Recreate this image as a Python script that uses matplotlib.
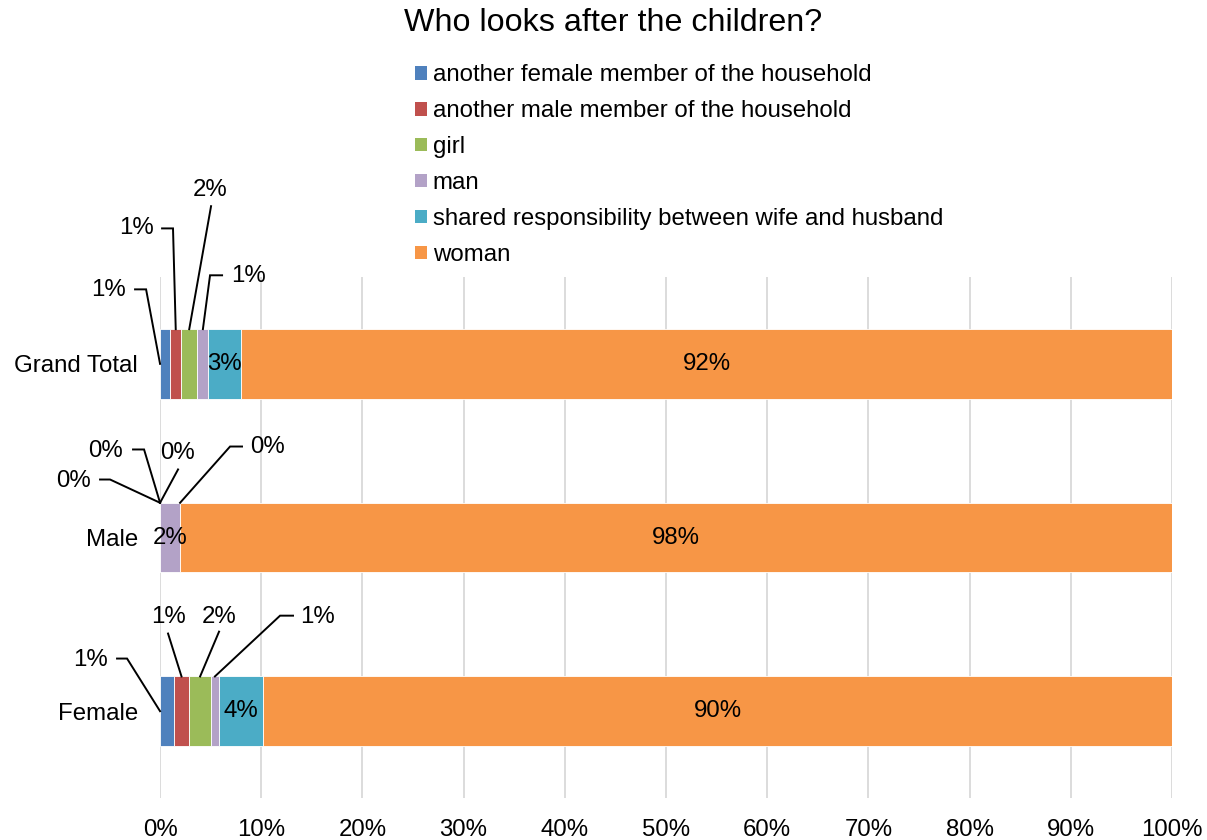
import matplotlib
matplotlib.use("Agg")
import matplotlib.pyplot as plt
from matplotlib.patches import Patch
import numpy as np

plt.rcParams["font.family"] = ["Liberation Sans", "DejaVu Sans"]

# Survey groups (bottom to top) and the carer categories
groups = ["Female", "Male", "Grand Total"]
series = [
    "another female member of the household",
    "another male member of the household",
    "girl",
    "man",
    "shared responsibility between wife and husband",
    "woman",
]
colors = ["#4F81BD", "#C0504D", "#9BBB59", "#B3A2C7", "#4BACC6", "#F79646"]

# Share of answers (%) per group, one list per carer category
another_female = [1.38, 0.0, 1.02]
another_male = [1.48, 0.0, 1.06]
girl = [2.20, 0.0, 1.61]
man = [0.72, 1.98, 1.09]
shared = [4.41, 0.0, 3.23]
woman = [89.81, 98.02, 91.99]
values = [another_female, another_male, girl, man, shared, woman]

tick_values = list(range(0, 101, 10))
tick_labels = [f"{t}%" for t in tick_values]

fs = 17.3

fig = plt.figure(figsize=(12.07, 8.40), dpi=100)
ax = fig.add_axes([0.1326, 0.05, 0.971 - 0.1326, 0.6202])

y = np.arange(len(groups))
bar_h = 0.4
left = np.zeros(len(groups))
lefts = []
for name, vals, col in zip(series, values, colors):
    vals = np.array(vals)
    ax.barh(y, vals, left=left, height=bar_h, color=col, label=name,
            edgecolor="white", linewidth=0.6, zorder=3)
    lefts.append(left.copy())
    left = left + vals

ax.set_xlim(0, 100)
ax.set_ylim(-0.5, 2.5)
ax.set_xticks(tick_values)
ax.set_xticklabels(tick_labels, fontsize=fs)
ax.set_yticks(y)
ax.set_yticklabels(groups, fontsize=fs)
ax.tick_params(length=0)
ax.tick_params(axis="y", pad=16)
ax.tick_params(axis="x", pad=15)
ax.grid(axis="x", color="#D9D9D9", linewidth=1.3, zorder=0)
for s in ax.spines.values():
    s.set_visible(False)

# In-bar labels for the larger segments
inside = {(2, 4), (2, 5), (1, 3), (1, 5), (0, 4), (0, 5)}
for (gi, si) in inside:
    v = values[si][gi]
    ax.text(lefts[si][gi] + v / 2, y[gi], f"{v:.0f}%", ha="center", va="center",
            fontsize=fs, zorder=5)

# Callout labels for the narrow segments:
# (group, series, text position, leader path start, elbow or None, anchor side)
callouts = [
    (2, 0, (-5.14, 2.424), (-2.47, 2.429), (-1.38, 2.429), "mid"),
    (2, 1, (-2.37, 2.78), (0.20, 2.78), (1.28, 2.78), "top"),
    (2, 2, (4.94, 3.00), (5.04, 2.908), None, "top"),
    (2, 3, (8.70, 2.504), (6.13, 2.51), (4.94, 2.51), "top"),
    (1, 0, (-8.60, 1.328), (-5.93, 1.334), (-4.94, 1.334), "top"),
    (1, 1, (-5.43, 1.50), (-2.67, 1.507), (-1.58, 1.507), "top"),
    (1, 2, (1.68, 1.484), (1.78, 1.392), None, "top"),
    (1, 4, (10.57, 1.519), (8.10, 1.524), (6.92, 1.524), "top"),
    (0, 0, (-6.92, 0.297), (-4.25, 0.303), (-3.26, 0.303), "mid"),
    (0, 1, (0.79, 0.545), (0.79, 0.447), None, "top"),
    (0, 2, (5.83, 0.545), (5.83, 0.458), None, "top"),
    (0, 3, (15.60, 0.545), (13.14, 0.55), (11.86, 0.55), "top"),
]
for gi, si, txt, start, elbow, side in callouts:
    v = values[si][gi]
    ax.text(txt[0], txt[1], f"{v:.0f}%", ha="center", va="center",
            fontsize=fs, zorder=6, clip_on=False)
    if side == "mid":
        anchor = (lefts[si][gi], y[gi])
    else:
        anchor = (lefts[si][gi] + v / 2, y[gi] + bar_h / 2)
    pts = [start] + ([elbow] if elbow is not None else []) + [anchor]
    xs, ys = zip(*pts)
    ax.plot(xs, ys, color="black", linewidth=1.4, zorder=6, clip_on=False,
            solid_joinstyle="miter")

fig.text(0.508, 0.973, "Who looks after the children?", ha="center", va="center",
         fontsize=23.2)

handles = [Patch(facecolor=c, edgecolor="none") for c in colors]
fig.legend(handles, series, loc="upper left", bbox_to_anchor=(0.3435, 0.9235),
           frameon=False, fontsize=fs, handlelength=0.5, handleheight=0.5,
           handletextpad=0.25, labelspacing=0.58, borderpad=0, borderaxespad=0)

fig.savefig("out.png", dpi=100)
